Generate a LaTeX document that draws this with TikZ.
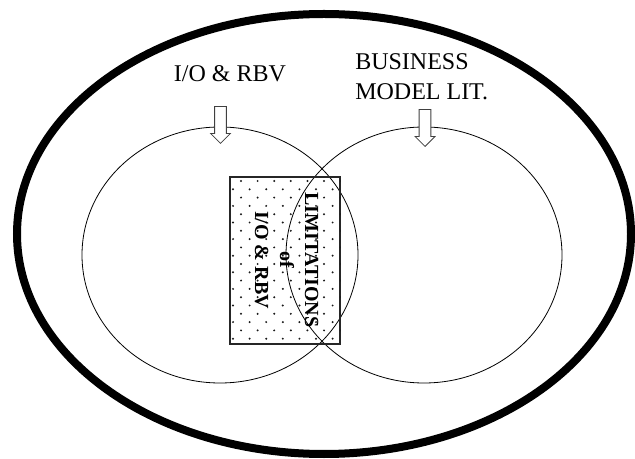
\documentclass[tikz,border=0pt]{standalone}
\usepackage{fontspec}
\setmainfont{Liberation Serif}
\usetikzlibrary{shapes.geometric,shapes.arrows}
\tikzset{
  lit/.style={font=\fontsize{18}{22.5}\selectfont, inner sep=0pt},
  litbold/.style={font=\fontsize{15}{18.75}\selectfont\bfseries, inner sep=0pt, align=center},
  frame/.style={ellipse, draw=black, line width=6pt, inner sep=0pt,
    minimum width=460.5pt, minimum height=330pt},
  ring/.style={ellipse, draw=black, line width=0.6pt, inner sep=0pt,
    minimum width=207pt, minimum height=192pt},
  pointer/.style={single arrow, draw=black!75, fill=white, line width=0.6pt,
    shape border rotate=270, inner sep=4.1pt, single arrow head extend=3pt,
    minimum height=27.75pt, anchor=tip},
  dotbox/.style={rectangle, draw=black!85, line width=0.9pt, inner sep=0pt,
    minimum width=82.5pt, minimum height=125.25pt},
  speck/.style={fill=black!90},
}

\begin{document}
\begin{tikzpicture}[x=0.75pt, y=-0.75pt]
    \useasboundingbox (0,0) rectangle (635,459);

    % Marco exterior
    \node[frame] (outer) at (324,234) {};

    % Circulos
    \node[ring] (io) at (220,255) {};
    \node[ring] (bm) at (424,255) {};

    % Zona de limitaciones
    \node[dotbox] (lim) at (285,260.5) {};
    \begin{scope}
      \clip (lim.south west) rectangle (lim.north east);
      \foreach \r in {0,...,19} {
        \pgfmathsetmacro\yy{181+8.3*\r}
        \pgfmathsetmacro\xo{isodd(\r) ? 233 : 241}
        \foreach \c in {0,...,6}
          \fill[speck] (\xo+16.6*\c,\yy) circle (1.1);
      }
    \end{scope}
    \node[litbold, rotate=-90] (limtxt) at (286.5,260) {LIMITATIONS\\of\\I/O \& RBV};

    % Etiquetas
    \node[lit, anchor=north] (iolbl) at (230,65) {I/O \& RBV};
    \node[lit, anchor=north west, align=left] (bmlbl) at (355,53) {BUSINESS\\MODEL LIT.};

    % Flechas
    \node[pointer] (ioarr) at (220.5,144) {};
    \node[pointer] (bmarr) at (425,147) {};
\end{tikzpicture}
\end{document}
